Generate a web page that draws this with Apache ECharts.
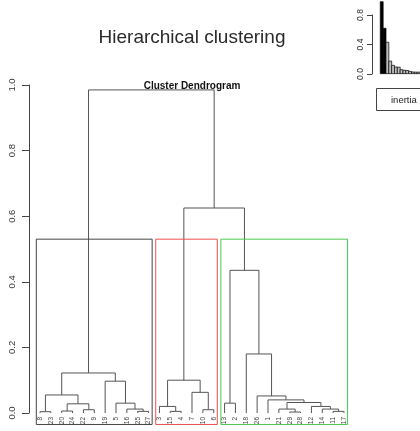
<!DOCTYPE html>
<html>
<head>
<meta charset="utf-8">
<script src="https://cdn.jsdelivr.net/npm/echarts@6/dist/echarts.min.js"></script>
<style>html,body{margin:0;padding:0;background:#fff}#c{width:420px;height:431px}</style>
</head>
<body>
<div id="c"></div>
<script>
// ---- data ----
const leafLabels = ['8','23','20','24','22','9','19','5','16','25','27',
                    '3','15','4','7','10','6',
                    '13','2','18','26','1','21','29','28','12','14','11','17'];
// merges: negative = leaf at display position (1-based), positive = earlier merge (1-based)
const mergeLeft   = [-1, -3, -10, -13, -24, -28, -5, -16, -9, -23, -27, -12, -26, 2, -8, -18, 10, -22, -21, 1, -15, -7, 12, 20, -20, 16, 23, 24];
const mergeRight  = [-2, -4, -11, -14, -25, -29, -6, -17, 3, 5, 6, 4, 11, 7, 9, -19, 13, 17, 18, 14, 8, 15, 21, 22, 19, 25, 26, 27];
const mergeHeight = [0.004, 0.006, 0.005, 0.005, 0.003, 0.005, 0.01, 0.01, 0.012, 0.012, 0.012, 0.02, 0.02, 0.028, 0.03, 0.03, 0.032, 0.04, 0.052, 0.055, 0.063, 0.097, 0.1, 0.122, 0.18, 0.435, 0.625, 0.985];
const clusterSizes = [11, 6, 12];
const clusterColors = ['#444444', '#ee5050', '#4cc84c'];
const inertiaGain = [0.985, 0.625, 0.435, 0.18, 0.122, 0.1, 0.097, 0.063, 0.055, 0.052, 0.04, 0.032, 0.03, 0.03];
const nbClust = 3;

// ---- build ----
const mergeX = [];
function nX(r){ return r < 0 ? -r : mergeX[r-1]; }
function nH(r){ return r < 0 ? 0 : mergeHeight[r-1]; }
const dendro = [];
for (let k = 0; k < mergeHeight.length; k++) {
  const l = mergeLeft[k], r = mergeRight[k], h = mergeHeight[k];
  const xl = nX(l), xr = nX(r);
  mergeX.push((xl + xr) / 2);
  dendro.push({coords: [[xl, nH(l)], [xl, h], [xr, h], [xr, nH(r)]]});
}
const nM = mergeHeight.length;
const cutH = (mergeHeight[nM - nbClust] + mergeHeight[nM - nbClust + 1]) / 2;
const boxBottom = -0.035;
const boxes = [];
let m = 0;
clusterSizes.forEach((s, i) => {
  const x0 = m + 0.66, x1 = m + s + 0.33;
  boxes.push({coords: [[x0, boxBottom], [x0, cutH], [x1, cutH], [x1, boxBottom], [x0, boxBottom]],
              lineStyle: {color: clusterColors[i]}});
  m += s;
});
const barData = inertiaGain.map((v, i) => ({
  value: v,
  itemStyle: {color: i < nbClust - 1 ? '#000' : '#bebebe', borderColor: '#000', borderWidth: 0.7}
}));

const nLeaf = leafLabels.length;
const leafStep = 10.857;
const gridLeft = 40 - 0.5 * leafStep;
const FONT = 'Liberation Sans, Arial, Helvetica, sans-serif';

const chart = echarts.init(document.getElementById('c'), null, {renderer: 'canvas'});
chart.setOption({
  animation: false,
  textStyle: {fontFamily: FONT},
  grid: [
    {left: gridLeft, top: 85, width: nLeaf * leafStep, height: 328},
    {left: 380.3, top: 15, width: inertiaGain.length * 4.33, height: 59}
  ],
  xAxis: [
    {type: 'value', gridIndex: 0, min: 0.5, max: nLeaf + 0.5, show: false, position: 'top'},
    {type: 'category', gridIndex: 0, data: leafLabels, position: 'bottom',
     axisLine: {show: false, onZero: false}, axisTick: {show: false},
     axisLabel: {rotate: 90, fontSize: 6.5, margin: 4, interval: 0, color: '#444', fontFamily: FONT}},
    {type: 'category', gridIndex: 1, data: inertiaGain.map((_, i) => String(i + 1)), show: false}
  ],
  yAxis: [
    {type: 'value', gridIndex: 0, min: 0, max: 1, interval: 0.2, offset: gridLeft - 29,
     axisLine: {show: true, onZero: false, lineStyle: {color: '#444', width: 1}},
     axisTick: {show: true, length: 7, lineStyle: {color: '#444'}},
     axisLabel: {rotate: 90, fontSize: 9.5, margin: 12, color: '#333', fontFamily: FONT,
                 formatter: v => v.toFixed(1)},
     splitLine: {show: false}},
    {type: 'value', gridIndex: 1, min: 0, max: 0.8, interval: 0.4, offset: 8.3,
     axisLine: {show: true, onZero: false, lineStyle: {color: '#444', width: 1}},
     axisTick: {show: true, length: 5, lineStyle: {color: '#444'}},
     axisLabel: {rotate: 90, fontSize: 8.5, margin: 6.5, color: '#333', fontFamily: FONT,
                 formatter: v => v.toFixed(1)},
     splitLine: {show: false}}
  ],
  series: [
    {type: 'lines', coordinateSystem: 'cartesian2d', xAxisIndex: 0, yAxisIndex: 0,
     polyline: true, clip: false, silent: true,
     lineStyle: {color: '#555555', width: 1, opacity: 1}, data: dendro},
    {type: 'lines', coordinateSystem: 'cartesian2d', xAxisIndex: 0, yAxisIndex: 0,
     polyline: true, clip: false, silent: true,
     lineStyle: {width: 1, opacity: 1}, data: boxes},
    {type: 'bar', xAxisIndex: 2, yAxisIndex: 1, barWidth: 3.6, clip: false, silent: true, data: barData}
  ],
  graphic: [
    {type: 'text', x: 192, y: 38, style: {text: 'Hierarchical clustering', font: '19px ' + FONT,
      fill: '#2a2a2a', textAlign: 'center', textVerticalAlign: 'middle', align: 'center', verticalAlign: 'middle'}},
    {type: 'text', x: 192, y: 86, style: {text: 'Cluster Dendrogram', font: 'bold 10px ' + FONT,
      fill: '#111', textAlign: 'center', textVerticalAlign: 'middle', align: 'center', verticalAlign: 'middle'}},
    {type: 'rect', shape: {x: 376.5, y: 88.5, width: 60, height: 22},
      style: {fill: 'none', stroke: '#444', lineWidth: 1}},
    {type: 'text', x: 391, y: 100, style: {text: 'inertia', font: '9.5px ' + FONT,
      fill: '#222', textVerticalAlign: 'middle', verticalAlign: 'middle'}}
  ]
});
</script>
</body>
</html>
